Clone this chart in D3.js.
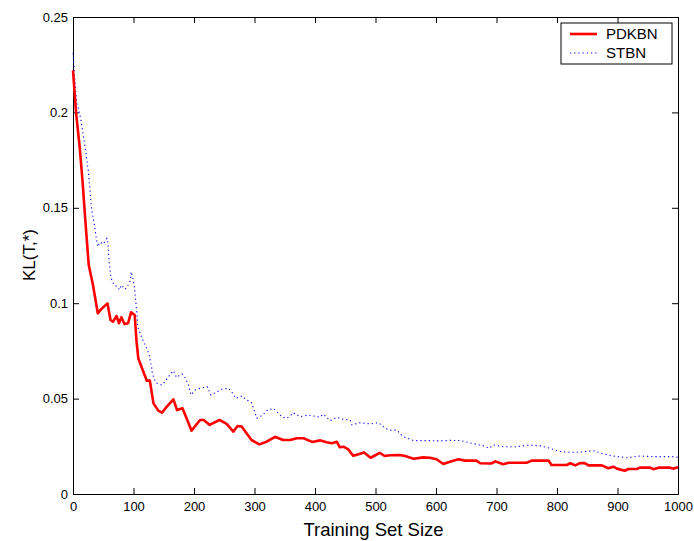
<!DOCTYPE html>
<html lang="en">
  <head>
    <meta charset="utf-8">
    <title>KL(T,*) vs Training Set Size</title>
    <script src="https://d3js.org/d3.v7.min.js" charset="utf-8"></script>
    <style>
      body { margin: 0; background: #fff; }
      svg text { font-family: "Liberation Sans", Arial, sans-serif; fill: #000; }
    </style>
  </head>
  <body>
    <div id="chart"></div>
  <script type="text/javascript">
    // series
    var seriesNames = ["PDKBN", "STBN"];

    var pdkbnSize = [0, 5, 11, 16, 20, 26, 33, 41, 47, 57, 62, 66, 72, 76, 80, 85, 91, 96, 102, 105,
      108, 122, 127, 133, 141, 147, 155, 166, 172, 181, 196, 210, 216, 226, 242, 254, 265, 272, 279, 295,
      308, 320, 334, 347, 359, 370, 381, 395, 409, 419, 428, 436, 441, 447, 455, 463, 472, 481, 492, 507,
      515, 524, 540, 549, 563, 579, 590, 601, 612, 623, 637, 648, 667, 673, 692, 698, 711, 720, 750, 758,
      786, 791, 816, 822, 830, 838, 846, 852, 874, 885, 893, 899, 912, 918, 932, 937, 954, 959, 968, 987,
      992, 1000];
    var pdkbnKL = [0.222, 0.200, 0.182, 0.163, 0.145, 0.120, 0.1095, 0.0947, 0.097, 0.0999, 0.0912, 0.0903, 0.0933, 0.0895, 0.0926, 0.0891, 0.0895, 0.0952, 0.0938, 0.080,
      0.071, 0.0594, 0.0594, 0.0475, 0.0437, 0.0426, 0.0458, 0.0496, 0.044, 0.0449, 0.0332, 0.0388, 0.0388, 0.0362, 0.0388, 0.0367, 0.0327, 0.0356, 0.0353, 0.0283,
      0.026, 0.0274, 0.030, 0.0283, 0.0283, 0.0292, 0.0292, 0.0273, 0.0281, 0.0271, 0.0266, 0.0274, 0.0245, 0.0248, 0.0234, 0.020, 0.0208, 0.0218, 0.019, 0.0216,
      0.0199, 0.0203, 0.0204, 0.0199, 0.0185, 0.0192, 0.019, 0.0182, 0.0157, 0.0169, 0.0182, 0.0175, 0.0175, 0.0161, 0.016, 0.0171, 0.0156, 0.0164, 0.0164, 0.0175,
      0.0175, 0.0152, 0.0152, 0.0161, 0.015, 0.0162, 0.0162, 0.015, 0.015, 0.0135, 0.0143, 0.0133, 0.0122, 0.0131, 0.0131, 0.0138, 0.0138, 0.013, 0.0138, 0.0138,
      0.0133, 0.014];

    var stbnSize = [0, 2, 4, 6, 10, 13, 16, 19, 22, 25, 28, 30, 33, 36, 38, 41, 44, 50, 56, 58,
      59, 61, 63, 68, 73, 77, 80, 86, 91, 95, 96, 99, 102, 104, 106, 107, 113, 118, 122, 126,
      128, 130, 131, 137, 147, 154, 160, 166, 171, 180, 185, 191, 195, 202, 210, 222, 228, 238, 246, 257,
      265, 269, 279, 287, 295, 301, 304, 314, 320, 331, 337, 345, 353, 359, 364, 375, 389, 397, 408, 414,
      425, 436, 447, 458, 461, 474, 491, 505, 516, 524, 535, 546, 563, 585, 607, 623, 640, 659, 678, 688,
      695, 711, 733, 755, 772, 788, 802, 816, 838, 860, 877, 893, 915, 937, 959, 981, 991, 1000];
    var stbnKL = [0.231, 0.222, 0.213, 0.205, 0.201, 0.196, 0.190, 0.184, 0.177, 0.170, 0.160, 0.151, 0.145, 0.140, 0.135, 0.1296, 0.132, 0.131, 0.134, 0.1314,
      0.125, 0.118, 0.113, 0.1095, 0.1087, 0.107, 0.1095, 0.1073, 0.1095, 0.112, 0.1165, 0.113, 0.107, 0.100, 0.093, 0.0877, 0.0824, 0.079, 0.0764, 0.0729,
      0.0693, 0.0667, 0.0632, 0.0583, 0.0571, 0.0597, 0.0624, 0.0646, 0.0611, 0.0629, 0.0611, 0.0571, 0.0519, 0.0545, 0.0554, 0.0562, 0.0519, 0.0536, 0.0549, 0.0554,
      0.0524, 0.0501, 0.0514, 0.0493, 0.0479, 0.0423, 0.0397, 0.0414, 0.0437, 0.0449, 0.0431, 0.0405, 0.0397, 0.0409, 0.0426, 0.0405, 0.0414, 0.0409, 0.0402, 0.0418,
      0.0384, 0.0402, 0.0391, 0.0388, 0.0362, 0.0374, 0.0367, 0.0374, 0.0344, 0.0335, 0.0335, 0.030, 0.028, 0.028, 0.0278, 0.0281, 0.028, 0.0266, 0.0253, 0.024,
      0.0257, 0.0248, 0.0248, 0.0257, 0.0252, 0.024, 0.0225, 0.0219, 0.0219, 0.0227, 0.021, 0.0199, 0.019, 0.0199, 0.0196, 0.0196, 0.0196, 0.0192];

    var xTicks = [0, 100, 200, 300, 400, 500, 600, 700, 800, 900, 1000];
    var yTicks = [0, 0.05, 0.1, 0.15, 0.2, 0.25];
    var yTickLabels = ["0", "0.05", "0.1", "0.15", "0.2", "0.25"];

    var margin = {top: 17, right: 16, bottom: 47, left: 73},
        width = 694 - margin.left - margin.right,
        height = 541 - margin.top - margin.bottom;

    var root = d3.select("#chart")
      .append("svg")
        .attr("width", 694)
        .attr("height", 541);

    var svg = root.append("g")
        .attr("transform", "translate(" + margin.left + "," + margin.top + ")");

    var x = d3.scaleLinear().domain([0, 1000]).range([0, width]);
    var y = d3.scaleLinear().domain([0, 0.25]).range([height, 0]);

    // box with inward ticks on all four sides
    svg.append("g")
      .attr("transform", "translate(0," + height + ")")
      .call(d3.axisBottom(x).tickValues(xTicks).tickSize(-6).tickSizeOuter(0).tickPadding(8).tickFormat(d3.format("d")));
    svg.append("g")
      .call(d3.axisTop(x).tickValues(xTicks).tickSize(-6).tickSizeOuter(0).tickFormat(""));
    svg.append("g")
      .call(d3.axisLeft(y).tickValues(yTicks).tickSize(-6).tickSizeOuter(0).tickPadding(5)
        .tickFormat(function(d, i) { return yTickLabels[i]; }));
    svg.append("g")
      .attr("transform", "translate(" + width + ",0)")
      .call(d3.axisRight(y).tickValues(yTicks).tickSize(-6).tickSizeOuter(0).tickFormat(""));

    svg.selectAll(".domain, .tick line").attr("stroke", "#000").attr("stroke-width", 1);
    svg.selectAll(".tick text").attr("font-size", 13).attr("font-family", "Liberation Sans, Arial, sans-serif");

    var line = d3.line()
      .x(function(d) { return x(d[0]); })
      .y(function(d) { return y(d[1]); });

    svg.append("path")
      .datum(stbnSize.map(function(s, i) { return [s, stbnKL[i]]; }))
      .attr("fill", "none")
      .attr("stroke", "#0000ff")
      .attr("stroke-width", 1.1)
      .attr("stroke-dasharray", "1.2,3")
      .attr("d", line);

    svg.append("path")
      .datum(pdkbnSize.map(function(s, i) { return [s, pdkbnKL[i]]; }))
      .attr("fill", "none")
      .attr("stroke", "#ff0000")
      .attr("stroke-width", 2.6)
      .attr("stroke-linejoin", "round")
      .attr("d", line);

    // legend
    var legend = svg.append("g").attr("transform", "translate(" + (561 - margin.left) + "," + (23 - margin.top) + ")");
    legend.append("rect")
      .attr("width", 111).attr("height", 41)
      .attr("fill", "#fff").attr("stroke", "#000").attr("stroke-width", 1);
    legend.append("line")
      .attr("x1", 9).attr("x2", 36).attr("y1", 11).attr("y2", 11)
      .attr("stroke", "#ff0000").attr("stroke-width", 2.6);
    legend.append("line")
      .attr("x1", 9).attr("x2", 36).attr("y1", 30).attr("y2", 30)
      .attr("stroke", "#0000ff").attr("stroke-width", 1.1).attr("stroke-dasharray", "1.2,3");
    legend.selectAll(".leg-text")
      .data(seriesNames)
      .enter()
      .append("text")
      .attr("class", "leg-text")
      .attr("x", 45)
      .attr("y", function(d, i) { return 11 + i * 19; })
      .attr("dy", "0.36em")
      .attr("font-size", 15)
      .text(function(d) { return d; });

    // axis titles
    root.append("text")
      .attr("x", margin.left + width / 2 - 2)
      .attr("y", 536)
      .attr("text-anchor", "middle")
      .attr("font-size", 18.5)
      .text("Training Set Size");

    root.append("text")
      .attr("transform", "translate(35," + 255 + ") rotate(-90)")
      .attr("text-anchor", "middle")
      .attr("font-size", 17)
      .text("KL(T,*)");
  </script>
  </body>
</html>
